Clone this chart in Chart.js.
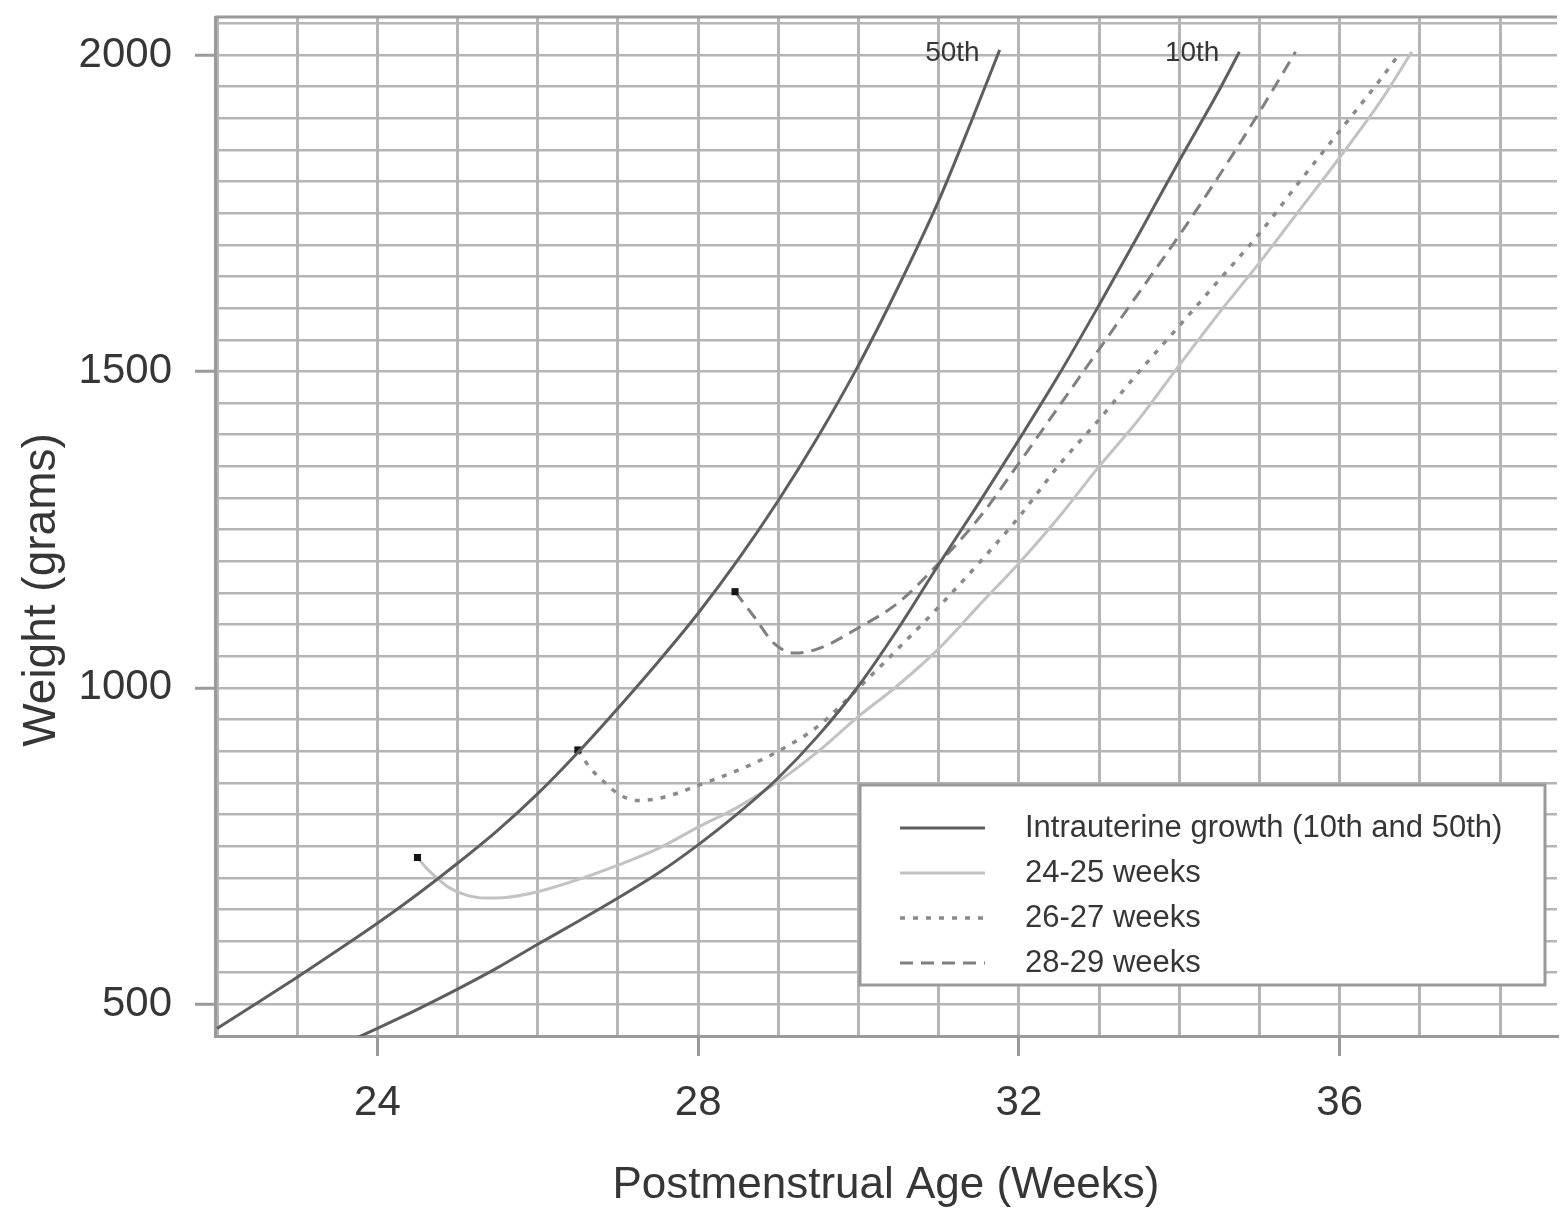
<!DOCTYPE html>
<html>
<head>
<meta charset="utf-8">
<title>Weight by postmenstrual age</title>
<script src="https://cdn.jsdelivr.net/npm/chart.js@4.4.1/dist/chart.umd.min.js"></script>
<style>
  html, body { margin: 0; padding: 0; background: #fff; }
</style>
</head>
<body>
<canvas id="growthChart" width="1562" height="1214"></canvas>
<script>
// intrauterine growth curves
const p50Weeks   = [22.0, 22.5, 23.0, 23.5, 24.0, 24.5, 25.0, 25.5, 26.0, 26.5, 27.0, 27.5, 28.0, 28.5, 29.0, 29.5, 30.0, 30.5, 31.0, 31.4, 31.76];
const p50Weights = [462, 502, 543, 585, 628, 674, 723, 775, 833, 898, 968, 1041, 1118, 1203, 1296, 1398, 1510, 1635, 1770, 1893, 2008];

const p10Weeks   = [23.5, 24.0, 24.5, 25.0, 25.5, 26.0, 26.5, 27.0, 27.5, 28.0, 28.5, 29.0, 29.5, 30.0, 30.5, 31.0, 31.5, 32.0, 32.5, 33.0, 33.5, 34.0, 34.5, 34.75];
const p10Weights = [433, 462, 492, 524, 558, 595, 631, 668, 707, 752, 802, 858, 925, 1003, 1095, 1195, 1292, 1392, 1495, 1605, 1718, 1833, 1945, 2005];

// postnatal growth by gestational age group
const ga2425Weeks   = [24.5, 24.62, 24.75, 24.9, 25.1, 25.35, 25.6, 26.0, 26.5, 27.0, 27.5, 28.0, 28.5, 29.0, 29.5, 30.0, 30.5, 31.0, 31.5, 32.0, 32.5, 33.0, 33.5, 34.0, 34.5, 35.0, 35.5, 36.0, 36.5, 36.9];
const ga2425Weights = [732, 714, 699, 684, 673, 668, 669, 678, 697, 720, 746, 780, 812, 852, 900, 955, 1005, 1062, 1130, 1197, 1270, 1350, 1425, 1510, 1593, 1672, 1755, 1838, 1925, 2005];

const ga2627Weeks   = [26.5, 26.65, 26.84, 27.0, 27.23, 27.45, 27.7, 28.0, 28.5, 29.0, 29.5, 30.0, 30.5, 31.0, 31.5, 32.0, 32.5, 33.0, 33.5, 34.0, 34.5, 35.0, 35.5, 36.0, 36.5, 36.75];
const ga2627Weights = [902, 874, 850, 833, 822, 824, 832, 846, 870, 900, 940, 1000, 1063, 1128, 1197, 1270, 1352, 1424, 1500, 1572, 1645, 1718, 1800, 1880, 1960, 2003];

const ga2829Weeks   = [28.46, 28.7, 28.95, 29.2, 29.5, 30.0, 30.5, 31.0, 31.5, 32.0, 32.5, 33.0, 33.5, 34.0, 34.5, 35.0, 35.45];
const ga2829Weights = [1152, 1112, 1070, 1055, 1062, 1095, 1135, 1197, 1268, 1355, 1445, 1535, 1625, 1715, 1810, 1910, 2005];

const xTickLabels = [24, 28, 32, 36];
const yTickLabels = [500, 1000, 1500, 2000];
const curveLabels = ["50th", "10th"];

const fontFamily = "'Liberation Sans', Arial, sans-serif";
const textColor = "#363636";
const gridColor = "#b5b5b5";
const frameColor = "#9a9a9a";

function toPoints(weeks, weights) {
  return weeks.map((w, i) => ({ x: w, y: weights[i] }));
}

// only the first point of each cohort gets a marker
const firstPointOnly = (ctx) => (ctx.dataIndex === 0 ? 5 : 0);

const datasets = [
  {
    label: "Intrauterine growth (10th and 50th)",
    data: toPoints(p50Weeks, p50Weights),
    borderColor: "#5e5e5e",
    borderWidth: 3,
    pointRadius: 0
  },
  {
    label: "Intrauterine growth (10th and 50th)",
    data: toPoints(p10Weeks, p10Weights),
    borderColor: "#5e5e5e",
    borderWidth: 3,
    pointRadius: 0
  },
  {
    label: "24-25 weeks",
    data: toPoints(ga2425Weeks, ga2425Weights),
    borderColor: "#c2c2c2",
    borderWidth: 3,
    pointRadius: firstPointOnly
  },
  {
    label: "26-27 weeks",
    data: toPoints(ga2627Weeks, ga2627Weights),
    borderColor: "#8a8a8a",
    borderWidth: 3.5,
    borderDash: [5, 8],
    pointRadius: firstPointOnly
  },
  {
    label: "28-29 weeks",
    data: toPoints(ga2829Weeks, ga2829Weights),
    borderColor: "#808080",
    borderWidth: 3,
    borderDash: [13, 8],
    pointRadius: firstPointOnly
  }
];

datasets.forEach((ds) => {
  ds.fill = false;
  ds.cubicInterpolationMode = "monotone";
  ds.pointStyle = "rect";
  ds.pointBackgroundColor = "#151515";
  ds.pointBorderWidth = 0;
});

// top frame line, legend box, curve labels and the y title
const chartDecor = {
  id: "chartDecor",
  afterDatasetsDraw(chart) {
    const ctx = chart.ctx;
    const area = chart.chartArea;
    const yScale = chart.scales.y;

    ctx.save();
    ctx.strokeStyle = frameColor;
    ctx.lineWidth = 3;
    ctx.beginPath();
    ctx.moveTo(area.left, area.top);
    ctx.lineTo(area.right, area.top);
    ctx.stroke();

    // 50th / 10th labels next to the top ends of the curves
    ctx.fillStyle = textColor;
    ctx.font = "28px " + fontFamily;
    ctx.textAlign = "right";
    ctx.textBaseline = "middle";
    curveLabels.forEach((txt, i) => {
      const pts = chart.getDatasetMeta(i).data;
      const end = pts[pts.length - 1];
      ctx.fillText(txt, end.x - 20, yScale.getPixelForValue(2000) - 2);
    });

    // legend
    const box = { left: 860, top: 785, width: 685, height: 200 };
    ctx.fillStyle = "#fff";
    ctx.fillRect(box.left, box.top, box.width, box.height);
    ctx.strokeStyle = frameColor;
    ctx.lineWidth = 3;
    ctx.strokeRect(box.left, box.top, box.width, box.height);

    const seen = [];
    let row = 0;
    ctx.font = "31px " + fontFamily;
    ctx.textAlign = "left";
    chart.data.datasets.forEach((ds) => {
      if (seen.includes(ds.label)) return;
      seen.push(ds.label);
      const y = box.top + 43 + row * 45;
      ctx.strokeStyle = ds.borderColor;
      ctx.lineWidth = ds.borderWidth;
      ctx.setLineDash(ds.borderDash || []);
      ctx.beginPath();
      ctx.moveTo(box.left + 40, y);
      ctx.lineTo(box.left + 125, y);
      ctx.stroke();
      ctx.setLineDash([]);
      ctx.fillStyle = textColor;
      ctx.fillText(ds.label, box.left + 165, y);
      row++;
    });

    // y axis title, sitting a little below the middle as in the original
    ctx.translate(42, 590);
    ctx.rotate(-Math.PI / 2);
    ctx.font = "46px " + fontFamily;
    ctx.textAlign = "center";
    ctx.fillStyle = textColor;
    ctx.fillText("Weight (grams)", 0, 0);
    ctx.restore();
  }
};

const chart = new Chart(document.getElementById("growthChart"), {
  type: "line",
  data: { datasets: datasets },
  options: {
    responsive: false,
    animation: false,
    layout: { padding: { top: 17, right: 0, bottom: 0, left: 0 } },
    plugins: {
      legend: { display: false },
      tooltip: { enabled: false }
    },
    scales: {
      x: {
        type: "linear",
        min: 21.975,
        max: 38.71,
        afterFit(scale) {
          scale.height = 178;
          scale.paddingLeft = 0;
          scale.paddingRight = 0;
        },
        ticks: {
          stepSize: 1,
          includeBounds: false,
          autoSkip: false,
          maxRotation: 0,
          padding: 22,
          color: textColor,
          font: { family: fontFamily, size: 42 },
          callback: (v) => (xTickLabels.includes(v) ? String(v) : "")
        },
        grid: {
          color: gridColor,
          lineWidth: 3,
          tickLength: 20,
          tickWidth: 3,
          tickColor: (ctx) => (ctx.tick && xTickLabels.includes(ctx.tick.value) ? frameColor : "rgba(0,0,0,0)")
        },
        border: { color: frameColor, width: 3 },
        title: {
          display: true,
          text: "Postmenstrual Age (Weeks)",
          color: textColor,
          font: { family: fontFamily, size: 44 },
          padding: { top: 0, bottom: 2 }
        }
      },
      y: {
        min: 450,
        max: 2060,
        afterFit(scale) {
          scale.width = 215;
          scale.paddingTop = 0;
          scale.paddingBottom = 0;
        },
        ticks: {
          stepSize: 50,
          includeBounds: false,
          autoSkip: false,
          padding: 23,
          color: textColor,
          font: { family: fontFamily, size: 42 },
          callback: (v) => (yTickLabels.includes(v) ? String(v) : "")
        },
        grid: {
          color: gridColor,
          lineWidth: 2.5,
          tickLength: 20,
          tickWidth: 3,
          tickColor: (ctx) => (ctx.tick && yTickLabels.includes(ctx.tick.value) ? frameColor : "rgba(0,0,0,0)")
        },
        border: { color: frameColor, width: 3 }
      }
    }
  },
  plugins: [chartDecor]
});
</script>
</body>
</html>
